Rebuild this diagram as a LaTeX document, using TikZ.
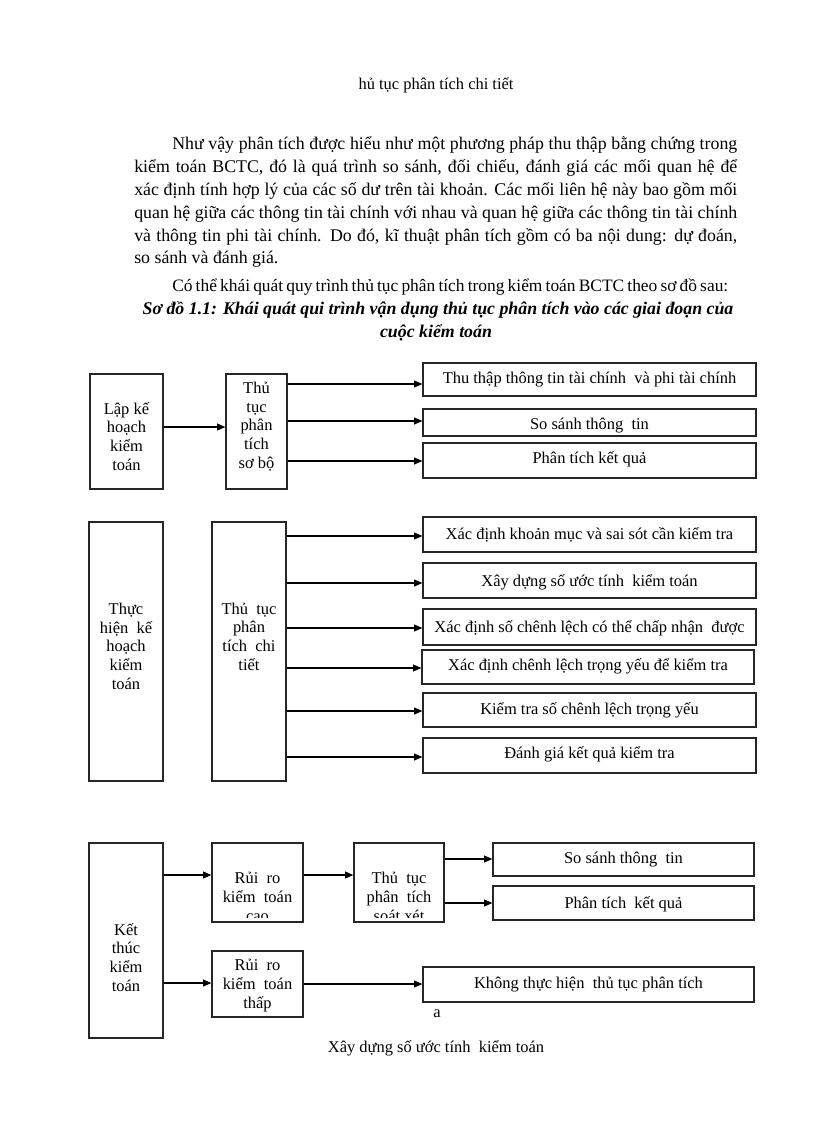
\documentclass[tikz,border=0pt]{standalone}
\usepackage{fontspec}
\setmainfont{Liberation Serif}
\usetikzlibrary{arrows.meta,fit}
\begin{document}
\begin{tikzpicture}[x=0.729pt,y=-0.729pt,
  box/.style={draw=black!85, line width=0.9pt, inner sep=0pt},
  lbl/.style={font=\fontsize{12}{13.5}\selectfont, align=center, inner sep=0pt, anchor=base},
  arr/.style={draw=black, line width=0.75pt, -{Triangle[length=6pt,width=5pt]}},
  bodytxt/.style={font=\fontsize{13}{16}\selectfont, inner sep=0pt, anchor=base west},
  captxt/.style={font=\fontsize{13}{16}\selectfont\bfseries\itshape, inner sep=0pt, anchor=base},
]
\useasboundingbox (0,0) rectangle (816,1123);
\fill[white] (0,0) rectangle (816,1123);

% ---------- text above ----------
\node[lbl] (title) at (436,90) {hủ tục phân tích chi tiết};
\node[bodytxt] (p1) at (172,150) {\makebox[411.9pt][s]{Như vậy phân tích được hiểu như một phương pháp thu thập bằng chứng trong}};
\node[bodytxt] (p2) at (134,172.8) {\makebox[439.6pt][s]{kiểm toán BCTC, đó là quá trình so sánh, đối chiếu, đánh giá các mối quan hệ để}};
\node[bodytxt] (p3) at (134,195.6) {\makebox[439.6pt][s]{xác định tính hợp lý của các số dư trên tài khoản. Các mối liên hệ này bao gồm mối}};
\node[bodytxt] (p4) at (134,218.4) {\makebox[439.6pt][s]{quan hệ giữa các thông tin tài chính với nhau và quan hệ giữa các thông tin tài chính}};
\node[bodytxt] (p5) at (134,241.2) {\makebox[439.6pt][s]{và thông tin phi tài chính. Do đó, kĩ thuật phân tích gồm có ba nội dung: dự đoán,}};
\node[bodytxt] (p6) at (134,264) {so sánh và đánh giá.};
\node[bodytxt, font=\fontsize{12.7}{16}\selectfont] (p7) at (172,291) {\spaceskip=2.6pt plus 1pt minus 1pt\makebox[405.3pt][s]{Có thể khái quát quy trình thủ tục phân tích trong kiểm toán BCTC theo sơ đồ sau:}};
\node[captxt] (c1) at (438,314) {Sơ đồ 1.1: Khái quát qui trình vận dụng thủ tục phân tích vào các giai đoạn của};
\node[captxt] (c2) at (436,337) {cuộc kiểm toán};

% ---------- section 1 ----------
\node[box, fit={(90,374) (163,489)}] (A1) {};
\node[box, fit={(226,374) (287,489)}] (B1) {};
\node[box, fit={(423,363) (756,396)}] (C1) {};
\node[box, fit={(423,409) (756,436)}] (C2) {};
\node[box, fit={(423,443) (756,478)}] (C3) {};
\node[lbl] (A1t) at (126.5,470) {Lập kế\\hoạch\\kiểm\\toán};
\node[lbl] (B1t) at (256.5,468) {Thủ\\tục\\phân\\tích\\sơ bộ};
\node[lbl] (C1t) at (589.5,383) {Thu thập thông tin tài chính\ \ và phi tài chính};
\node[lbl] (C2t) at (589.5,429) {So sánh thông\ \ tin};
\node[lbl] (C3t) at (589.5,463) {Phân tích kết quả};
\draw[arr] (A1.east |- 0,427) -- (B1.west |- 0,427);
\draw[arr] (B1.east |- 0,384) -- (C1.west |- 0,384);
\draw[arr] (B1.east |- 0,421) -- (C2.west |- 0,421);
\draw[arr] (B1.east |- 0,461) -- (C3.west |- 0,461);

% ---------- section 2 ----------
\node[box, fit={(89,522) (163,781)}] (A2) {};
\node[box, fit={(212,522) (286,781)}] (B2) {};
\node[box, fit={(423,517) (756,552)}] (D1) {};
\node[box, fit={(423,563) (756,598)}] (D2) {};
\node[box, fit={(423,609) (756,645)}] (D3) {};
\node[box, fit={(422,650) (754,684)}] (D4) {};
\node[box, fit={(423,693) (756,727)}] (D5) {};
\node[box, fit={(423,738) (756,773)}] (D6) {};
\node[lbl] (A2t) at (126,689) {Thực\\hiện\ \ kế\\hoạch\\kiểm\\toán};
\node[lbl] (B2t) at (249,670) {Thủ\ \ tục\\phân\\tích\ \ chi\\tiết};
\node[lbl] (D1t) at (589.5,539) {Xác định khoản mục và sai sót cần kiểm tra};
\node[lbl] (D2t) at (589.5,586) {Xây dựng số ước tính\ \ kiểm toán};
\node[lbl] (D3t) at (589.5,632) {Xác định số chênh lệch có thể chấp nhận\ \ được};
\node[lbl] (D4t) at (588,670) {Xác định chênh lệch trọng yếu để kiểm tra};
\node[lbl] (D5t) at (589.5,714) {Kiểm tra số chênh lệch trọng yếu};
\node[lbl] (D6t) at (589.5,758) {Đánh giá kết quả kiểm tra};
\draw[arr] (B2.east |- 0,536) -- (D1.west |- 0,536);
\draw[arr] (B2.east |- 0,583) -- (D2.west |- 0,583);
\draw[arr] (B2.east |- 0,628) -- (D3.west |- 0,628);
\draw[arr] (B2.east |- 0,668) -- (D4.west |- 0,668);
\draw[arr] (B2.east |- 0,711) -- (D5.west |- 0,711);
\draw[arr] (B2.east |- 0,757) -- (D6.west |- 0,757);

% ---------- section 3 ----------
\node[box, fit={(89,843) (163,1038)}] (A3) {};
\node[box, fit={(212,843) (303,922)}] (E1) {};
\node[box, fit={(354,843) (444,922)}] (E2) {};
\node[box, fit={(212,951) (303,1017)}] (E3) {};
\node[box, fit={(493,843) (754,876)}] (F1) {};
\node[box, fit={(493,886) (754,920)}] (F2) {};
\node[box, fit={(423,967) (754,1002)}] (F3) {};
\node[lbl] (A3t) at (126,991) {Kết\\thúc\\kiểm\\toán};
\begin{scope}
  \clip (212,843) rectangle (444,917);
  \node[lbl] (E1t) at (257.5,921) {Rủi\ \ ro\\kiểm\ \ toán\\cao};
  \node[lbl] (E2t) at (399,921) {Thủ\ \ tục\\phân\ \ tích\\soát\ xét};
\end{scope}
\node[lbl] (E3t) at (257.5,1008) {Rủi\ \ ro\\kiểm\ \ toán\\thấp};
\node[lbl] (F1t) at (623.5,863) {So sánh thông\ \ tin};
\node[lbl] (F2t) at (623.5,908) {Phân tích\ \ kết quả};
\node[lbl] (F3t) at (588.5,988) {Không thực hiện\ \ thủ tục phân tích};
\draw[arr] (A3.east |- 0,875) -- (E1.west |- 0,875);
\draw[arr] (A3.east |- 0,983) -- (E3.west |- 0,983);
\draw[arr] (E1.east |- 0,875) -- (E2.west |- 0,875);
\draw[arr] (E2.east |- 0,859) -- (F1.west |- 0,859);
\draw[arr] (E2.east |- 0,903) -- (F2.west |- 0,903);
\draw[arr] (E3.east |- 0,984) -- (F3.west |- 0,984);

\node[lbl] (amark) at (437,1017) {a};
\node[lbl] (bottomcap) at (436,1052) {Xây dựng số ước tính\ \ kiểm toán};
\end{tikzpicture}
\end{document}
